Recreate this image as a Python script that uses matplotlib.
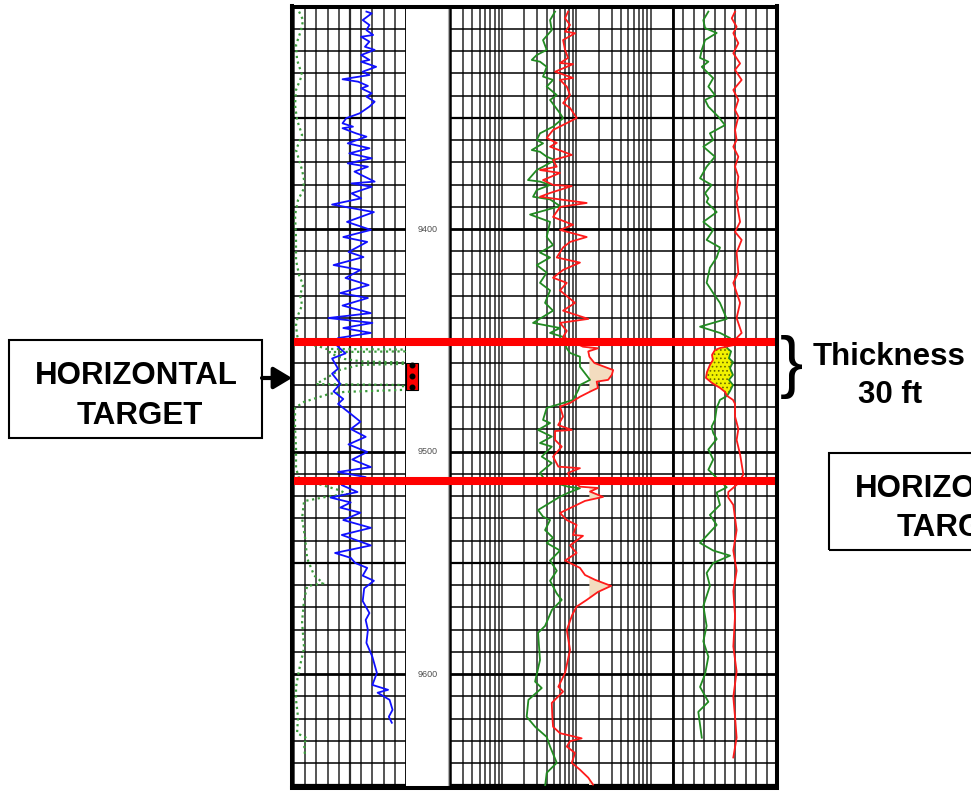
import numpy as np
import matplotlib
matplotlib.use('Agg')
import matplotlib.pyplot as plt
from matplotlib.patches import Rectangle, FancyArrowPatch
from matplotlib.ticker import NullLocator

plt.rcParams['font.family'] = ['Liberation Sans', 'DejaVu Sans']
plt.rcParams['hatch.linewidth'] = 0.7

# ---- log data (depth in ft) ----
top_depth, base_depth = 9300, 9651
depth_labels = [9400, 9500, 9600]
target_top, target_base = 9450.8, 9513.2
perf_top, perf_base = 9460.0, 9472.2
gas_top, gas_base = 9453.5, 9475.0
res_cutoff = 150

# track 1: gamma ray (blue) and dotted green curve
gr_depth = [9302.3, 9303.1, 9306.1, 9308.3, 9310.6, 9312.8, 9313.6, 9315.8, 9318.1, 9319.5,
            9321.8, 9324.0, 9324.8, 9327.1, 9329.3, 9330.8, 9332.7, 9333.8, 9335.7, 9336.8,
            9339.0, 9340.5, 9342.8, 9345.0, 9348.0, 9350.2, 9352.5, 9354.0, 9354.7, 9357.0,
            9358.5, 9361.5, 9363.7, 9366.0, 9368.2, 9370.5, 9372.0, 9374.2, 9378.7, 9379.5,
            9381.0, 9384.0, 9386.2, 9389.0, 9392.4, 9396.8, 9400.4, 9403.6, 9405.8, 9410.3,
            9412.6, 9416.2, 9418.4, 9422.0, 9425.2, 9428.8, 9431.0, 9434.4, 9437.8, 9440.0,
            9442.2, 9444.5, 9446.7, 9449.0, 9452.6, 9455.9, 9458.2, 9462.8, 9465.0, 9469.6,
            9473.0, 9476.4, 9478.6, 9483.1, 9486.6, 9489.9, 9493.4, 9496.8, 9500.2, 9503.6,
            9507.0, 9509.2, 9511.5, 9515.1, 9518.2, 9520.7, 9522.9, 9525.2, 9527.5, 9530.8,
            9534.3, 9537.5, 9542.2, 9545.6, 9547.8, 9550.1, 9552.3, 9555.8, 9558.1, 9561.5,
            9567.2, 9572.6, 9575.7, 9580.2, 9586.0, 9592.3, 9599.5, 9604.9, 9607.1, 9608.4,
            9611.6, 9616.1, 9619.2, 9621.9]
gr = [97, 104, 92, 101, 97, 106, 90, 101, 95, 108,
      90, 101, 90, 110, 92, 101, 65, 86, 99, 90,
      104, 97, 108, 101, 88, 70, 65, 79, 65, 83,
      97, 72, 101, 74, 104, 72, 99, 81, 108, 77,
      104, 77, 90, 51, 107, 71, 103, 66, 98, 73,
      93, 53, 89, 69, 100, 62, 99, 65, 103, 46,
      105, 66, 103, 59, 58, 69, 51, 59, 51, 62,
      53, 66, 59, 76, 89, 76, 96, 73, 98, 78,
      103, 59, 96, 64, 85, 49, 76, 62, 89, 66,
      103, 64, 103, 55, 76, 82, 98, 92, 107, 94,
      92, 101, 96, 99, 97, 105, 111, 105, 126, 112,
      128, 132, 127, 131]

sp_depth = [9302.3, 9306.1, 9310.6, 9317.3, 9324.0, 9330.8, 9337.5, 9344.3, 9351.0, 9357.7,
            9364.5, 9369.0, 9373.5, 9378.0, 9382.5, 9387.0, 9393.7, 9405.0, 9414.0, 9420.7,
            9425.2, 9429.7, 9434.2, 9438.7, 9443.2, 9447.7, 9451.0, 9452.8, 9453.9, 9454.2,
            9455.0, 9455.3, 9456.6, 9458.4, 9459.5, 9460.0, 9460.6, 9461.1, 9463.4, 9467.0,
            9469.7, 9470.1, 9472.3, 9473.2, 9474.1, 9477.7, 9480.4, 9489.4, 9498.4, 9507.5,
            9512.0, 9514.7, 9517.4, 9519.2, 9520.1, 9522.3, 9530.0, 9539.0, 9548.0, 9555.7,
            9559.2, 9560.5, 9566.7, 9576.6, 9588.3, 9598.2, 9605.8, 9611.6, 9619.4, 9626.6,
            9628.9, 9631.1, 9637.4]
sp = [6.8, 12.2, 9.5, 2.7, 4.1, 10.8, 2.7, 1.4, 4.1, 10.8,
      2.7, 6.8, 10.8, 13.5, 12.2, 5.4, 1.4, 2.7, 2.7, 6.8,
      12.2, 8.1, 10.8, 5.4, 2.7, 4.1, 6.8, 33.8, 43.2, 148.6,
      148.6, 47.3, 54, 67.6, 90.5, 148.6, 148.6, 87.8, 60.8, 43.2,
      29.7, 146, 146, 67.6, 47.3, 13.5, 1.4, 1.4, 2.7, 2.7,
      6.8, 33.8, 60.8, 71.6, 47.3, 13.5, 10.8, 14.9, 17.6, 27,
      39.2, 17.6, 13.5, 10.8, 13.5, 6.8, 2.7, 2.7, 5.4, 4.1,
      17.6, 13.5, 14.9]

# track 2: resistivity, shallow (green) and deep (red), ohm-m
rs_depth = [9302.3, 9306.1, 9310.6, 9315.1, 9319.5, 9321.8, 9324.0, 9324.8, 9327.1, 9331.5,
            9333.0, 9336.0, 9339.8, 9342.0, 9345.0, 9348.0, 9350.2, 9354.0, 9357.0, 9360.0,
            9361.5, 9364.5, 9365.3, 9367.5, 9369.0, 9372.0, 9373.5, 9378.0, 9378.7, 9380.2,
            9382.5, 9385.5, 9386.7, 9389.7, 9393.5, 9396.8, 9403.6, 9407.2, 9410.6, 9412.8,
            9416.2, 9419.6, 9424.2, 9427.6, 9433.2, 9436.7, 9442.2, 9444.5, 9446.7, 9448.5,
            9453.7, 9455.7, 9457.4, 9461.9, 9467.8, 9470.1, 9472.3, 9476.8, 9478.2, 9480.4,
            9485.8, 9487.2, 9490.3, 9493.3, 9496.2, 9497.8, 9502.3, 9505.2, 9509.6, 9512.8,
            9515.8, 9516.5, 9518.6, 9520.3, 9526.3, 9529.3, 9530.8, 9535.3, 9538.8, 9541.1,
            9544.5, 9549.0, 9553.6, 9558.1, 9563.8, 9566.7, 9571.2, 9578.4, 9581.5, 9593.7,
            9603.4, 9606.3, 9611.6, 9619.2, 9623.7, 9628.3, 9632.6, 9639.9, 9644.4, 9650.5]
rs = [51.8, 44.4, 46.8, 35.7, 40, 29.4, 25.2, 32.5, 40, 35.7,
      48.7, 40, 54.6, 44.4, 51.8, 60.4, 66.4, 48.7, 32.5, 29.4,
      35.7, 25.2, 32.5, 40, 51.8, 35.7, 29.4, 22.4, 32.5, 44.4,
      29.4, 26.2, 44.4, 60.4, 23.9, 44.4, 40, 48.7, 32.5, 44.4,
      29.4, 40, 32.5, 44.4, 38, 48.7, 26.2, 60.4, 44.4, 66.4,
      74.5, 82.4, 112, 112, 153, 112, 106.6, 90.4, 66.4, 40,
      35.7, 44.4, 30.6, 46.8, 32.5, 46.8, 34.3, 46.8, 32.5, 38,
      77.5, 112, 77.5, 60.4, 30.6, 35.7, 44.4, 38, 48.7, 40,
      60.4, 44.4, 54.6, 44.4, 54.6, 63.7, 47, 38, 30.6, 32.5,
      27.9, 34.3, 22.7, 21.5, 27.9, 40, 44.4, 54.6, 40, 38]

rd_depth = [9302.3, 9305.3, 9308.3, 9311.3, 9312.0, 9315.1, 9319.5, 9323.1, 9325.4, 9325.9,
            9329.3, 9332.1, 9333.0, 9336.0, 9339.8, 9343.4, 9345.6, 9350.1, 9352.4, 9355.5,
            9359.1, 9361.3, 9363.0, 9366.7, 9369.0, 9372.0, 9373.5, 9374.8, 9378.0, 9380.2,
            9380.7, 9383.8, 9385.5, 9386.7, 9388.3, 9390.1, 9394.6, 9398.1, 9400.4, 9403.6,
            9405.8, 9408.3, 9412.8, 9415.1, 9418.4, 9421.9, 9424.2, 9427.6, 9433.2, 9436.7,
            9440.4, 9442.2, 9445.8, 9448.5, 9452.9, 9453.6, 9455.0, 9457.4, 9460.2, 9463.4,
            9465.6, 9467.8, 9468.6, 9471.4, 9473.1, 9475.4, 9478.2, 9479.8, 9484.3, 9488.1,
            9490.3, 9490.8, 9494.8, 9497.8, 9502.3, 9506.8, 9507.5, 9509.6, 9512.8, 9515.8,
            9516.4, 9518.0, 9520.4, 9522.2, 9524.8, 9527.6, 9530.8, 9533.0, 9537.5, 9537.9,
            9542.2, 9545.6, 9549.0, 9552.3, 9555.5, 9557.7, 9560.4, 9563.1, 9566.7, 9569.7,
            9573.5, 9580.2, 9589.2, 9599.5, 9605.7, 9607.9, 9613.0, 9618.5, 9623.7, 9626.6,
            9628.9, 9630.2, 9632.6, 9635.5, 9639.9, 9643.0, 9646.6, 9649.7]
rd = [77.5, 70.6, 82.4, 70.6, 96.2, 66.4, 70.6, 77.5, 60.4, 90.4,
      51.8, 90.4, 60.4, 74.5, 82.4, 66.4, 82.4, 101.4, 74.5, 48.7,
      40, 54.6, 44.4, 86.9, 48.7, 54.6, 32.5, 60.4, 35.7, 48.7,
      86.9, 44.4, 32.5, 60.4, 138, 60.4, 48.7, 90.4, 60.4, 138,
      82.4, 66.4, 54.6, 112, 66.4, 48.7, 74.5, 60.4, 96.2, 66.4,
      145, 60.4, 74.5, 66.4, 123, 196, 145, 150, 175, 313,
      300, 268, 188, 196, 153, 112, 82.4, 60.4, 66.4, 57,
      86.9, 51.8, 51.8, 63.7, 48.7, 57.4, 112, 77.5, 85, 112,
      196, 153, 229, 131, 90.4, 60.4, 74.5, 101, 90.4, 123,
      82.4, 101, 70.6, 112, 131, 180, 294, 196, 138, 101,
      88, 74.5, 82.4, 70.6, 57.4, 66.4, 46.8, 47.5, 48.7, 60.4,
      118, 82.4, 74.5, 96.2, 86.9, 112, 145, 168]

# track 3: neutron (green) and density porosity (red), v/v
nphi_depth = [9302.3, 9306.1, 9309.7, 9311.9, 9315.1, 9319.5, 9323.1, 9324.8, 9327.1, 9332.2,
              9336.0, 9339.8, 9342.0, 9345.0, 9349.5, 9353.3, 9357.0, 9360.0, 9363.0, 9367.5,
              9372.0, 9377.2, 9380.2, 9383.9, 9386.2, 9387.9, 9392.4, 9396.8, 9400.4, 9404.9,
              9408.3, 9412.8, 9417.4, 9424.2, 9428.8, 9433.2, 9440.4, 9443.9, 9446.7, 9449.0,
              9452.0, 9453.5, 9455.0, 9458.0, 9459.8, 9462.5, 9465.6, 9467.8, 9470.1, 9472.8,
              9475.0, 9476.8, 9480.4, 9485.8, 9488.8, 9491.7, 9494.4, 9499.1, 9503.6, 9508.2,
              9516.1, 9518.4, 9524.0, 9528.5, 9533.0, 9541.1, 9544.5, 9546.8, 9550.1, 9554.6,
              9560.4, 9569.4, 9578.4, 9585.3, 9592.2, 9600.0, 9605.8, 9612.5, 9617.0, 9628.6]
nphi = [0.246, 0.275, 0.265, 0.198, 0.265, 0.284, 0.294, 0.246, 0.284, 0.218,
        0.246, 0.208, 0.265, 0.246, 0.189, 0.150, 0.237, 0.218, 0.275, 0.208,
        0.256, 0.294, 0.227, 0.265, 0.246, 0.256, 0.198, 0.275, 0.218, 0.256,
        0.179, 0.198, 0.237, 0.256, 0.218, 0.179, 0.140, 0.294, 0.179, 0.121,
        0.138, 0.138, 0.115, 0.127, 0.104, 0.121, 0.104, 0.127, 0.104, 0.121,
        0.138, 0.179, 0.198, 0.208, 0.227, 0.218, 0.198, 0.246, 0.218, 0.246,
        0.140, 0.198, 0.179, 0.237, 0.198, 0.294, 0.218, 0.121, 0.218, 0.256,
        0.237, 0.275, 0.256, 0.275, 0.246, 0.265, 0.294, 0.246, 0.304, 0.284]

dphi_depth = [9302.3, 9305.3, 9309.1, 9312.0, 9316.5, 9321.0, 9325.6, 9328.5, 9333.0, 9337.5,
              9342.0, 9346.5, 9349.5, 9355.5, 9360.0, 9363.0, 9367.5, 9372.0, 9376.5, 9382.5,
              9386.2, 9387.9, 9396.8, 9401.3, 9404.9, 9410.6, 9419.6, 9424.2, 9433.2, 9440.0,
              9446.7, 9449.0, 9452.0, 9453.5, 9454.4, 9456.6, 9458.9, 9461.1, 9464.3, 9466.9,
              9469.2, 9471.4, 9473.2, 9475.0, 9476.8, 9478.6, 9484.3, 9489.9, 9494.8, 9501.3,
              9510.4, 9515.0, 9518.2, 9520.7, 9524.0, 9535.3, 9544.5, 9553.6, 9562.7, 9573.9,
              9587.6, 9598.9, 9610.3, 9619.4, 9628.6, 9637.5]
dphi = [0.092, 0.111, 0.083, 0.102, 0.073, 0.102, 0.063, 0.092, 0.054, 0.102,
        0.073, 0.092, 0.073, 0.092, 0.083, 0.102, 0.073, 0.092, 0.073, 0.083,
        0.073, 0.083, 0.063, 0.092, 0.054, 0.083, 0.073, 0.102, 0.063, 0.083,
        0.054, 0.083, 0.092, 0.179, 0.208, 0.225, 0.220, 0.237, 0.254, 0.260,
        0.225, 0.179, 0.150, 0.138, 0.104, 0.092, 0.092, 0.073, 0.083, 0.063,
        0.044, 0.083, 0.131, 0.131, 0.102, 0.083, 0.102, 0.083, 0.102, 0.092,
        0.102, 0.083, 0.102, 0.092, 0.083, 0.102]

GREEN = '#228b22'
RED = '#ff1a1a'
BLUE = '#1010ff'
GRID = '#2e2e2e'

W, H = 971, 791
fig = plt.figure(figsize=(W / 100, H / 100), dpi=100)


def box(x0, x1, y0=6.5, y1=787.5):
    # pixel box -> figure fraction
    return [x0 / W, 1 - y1 / H, (x1 - x0) / W, (y1 - y0) / H]


def setup_track(ax):
    ax.set_ylim(base_depth, top_depth)
    ax.xaxis.set_major_locator(NullLocator())
    ax.xaxis.set_minor_locator(NullLocator())
    ax.yaxis.set_major_locator(NullLocator())
    ax.yaxis.set_minor_locator(NullLocator())
    for s in ax.spines.values():
        s.set_visible(False)


def depth_grid(ax):
    for d in range(top_depth + 10, base_depth, 10):
        lw = 2.0 if d % 100 == 0 else (1.6 if d % 50 == 0 else 1.1)
        ax.axhline(d, color='black', lw=lw, zorder=1)


# track 1
ax1 = fig.add_axes(box(294, 406))
ax1.set_xlim(0, 150)
setup_track(ax1)
for i, v in enumerate(np.linspace(0, 150, 11)):
    ax1.axvline(v, color=GRID, lw=1.6 if i == 5 else 1.15, zorder=1)
depth_grid(ax1)
ax1.plot(sp, sp_depth, color='#3c9c3c', lw=1.6, ls=(0, (1, 1.6)), zorder=3)
ax1.plot(gr, gr_depth, color=BLUE, lw=1.3, zorder=4)
ax1.spines['right'].set_visible(True)
ax1.spines['right'].set_linewidth(1.8)

# depth track
axd = fig.add_axes(box(406, 450))
axd.set_xlim(0, 1)
setup_track(axd)
for d in depth_labels:
    axd.text(0.5, d, str(d), ha='center', va='center', fontsize=6.5, color='#505050')
axd.axvline(0.95, color='#b0b0b0', lw=0.8)
axd.add_patch(Rectangle((0.0, perf_top), 0.27, perf_base - perf_top,
                        facecolor='#ff0000', edgecolor='black', lw=0.8, zorder=3))
for d in np.linspace(perf_top + 1.3, perf_base - 1.3, 3):
    axd.plot(0.135, d, 'o', color='black', ms=3.3, zorder=4)

# track 2 (log resistivity)
ax2 = fig.add_axes(box(450, 673))
ax2.set_xscale('log')
ax2.set_xlim(2, 2000)
setup_track(ax2)
for p in range(0, 4):
    for k in range(1, 10):
        v = k * 10 ** p
        if 2 <= v <= 2000:
            ax2.axvline(v, color=GRID, lw=1.15, zorder=1)
depth_grid(ax2)
rd_arr = np.array(rd)
ax2.fill_betweenx(rd_depth, res_cutoff, rd_arr, where=rd_arr > res_cutoff,
                  interpolate=True, color='#f3dcbf', lw=0, zorder=2)
ax2.plot(rs, rs_depth, color=GREEN, lw=1.3, zorder=3)
ax2.plot(rd, rd_depth, color=RED, lw=1.3, zorder=4)
ax2.spines['left'].set_visible(True)
ax2.spines['left'].set_linewidth(1.8)

# track 3 (porosity)
ax3 = fig.add_axes(box(673, 777))
ax3.set_xlim(0.45, -0.15)
setup_track(ax3)
for v in np.linspace(-0.15, 0.45, 11):
    ax3.axvline(v, color=GRID, lw=1.15, zorder=1)
depth_grid(ax3)
dd = np.array(dphi_depth)
nd = np.array(nphi_depth)
m_d = (dd >= gas_top) & (dd <= gas_base)
m_n = (nd >= gas_top) & (nd <= gas_base)
poly_x = np.concatenate([np.array(dphi)[m_d], np.array(nphi)[m_n][::-1]])
poly_y = np.concatenate([dd[m_d], nd[m_n][::-1]])
ax3.fill(poly_x, poly_y, facecolor='#f2f200', edgecolor='#6a6a00', hatch='....', lw=0, zorder=2)
ax3.plot(nphi, nphi_depth, color=GREEN, lw=1.3, zorder=3)
ax3.plot(dphi, dphi_depth, color=RED, lw=1.3, zorder=4)
ax3.spines['left'].set_visible(True)
ax3.spines['left'].set_linewidth(2.0)

# overlay: outer frame and target markers
axo = fig.add_axes(box(292, 777))
axo.set_facecolor('none')
axo.set_ylim(base_depth, top_depth)
axo.set_xlim(0, 1)
axo.set_xticks([])
axo.set_yticks([])
for s in axo.spines.values():
    s.set_linewidth(2.9)
for d in (target_top, target_base):
    axo.axhline(d, color='#ff0000', lw=5.8, zorder=2)

# annotations
bold = dict(fontsize=22.5, fontweight='bold', color='black')
fig.patches.append(Rectangle((9 / W, 1 - 438 / H), 253 / W, 98 / H, transform=fig.transFigure,
                             fill=False, lw=1.5, ec='black'))
fig.text(136 / W, 1 - 384 / H, 'HORIZONTAL', ha='center', va='baseline', **bold)
fig.text(140 / W, 1 - 423.5 / H, 'TARGET', ha='center', va='baseline', **bold)
fig.patches.append(FancyArrowPatch((262 / W, 1 - 378 / H), (292 / W, 1 - 378 / H),
                                   transform=fig.transFigure,
                                   arrowstyle='-|>,head_length=0.5,head_width=0.3',
                                   mutation_scale=22, lw=3, color='black',
                                   shrinkA=0, shrinkB=0))

fig.text(791 / W, 1 - 367 / H, '}', ha='center', va='center', fontsize=50, color='black')
fig.text(889 / W, 1 - 365 / H, 'Thickness', ha='center', va='baseline', **bold)
fig.text(890 / W, 1 - 403 / H, '30 ft', ha='center', va='baseline', **bold)

fig.patches.append(Rectangle((829 / W, 1 - 550 / H), 253 / W, 97 / H, transform=fig.transFigure,
                             fill=False, lw=1.5, ec='black'))
fig.text(956 / W, 1 - 497 / H, 'HORIZONTAL', ha='center', va='baseline', **bold)
fig.text(960 / W, 1 - 536.5 / H, 'TARGET', ha='center', va='baseline', **bold)

fig.savefig('out.png', dpi=100, facecolor='white')
